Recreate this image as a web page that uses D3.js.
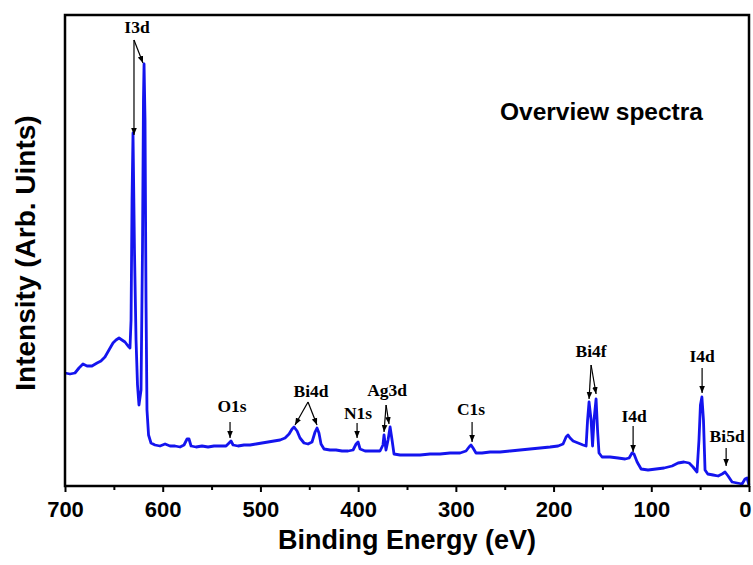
<!DOCTYPE html>
<html><head><meta charset="utf-8">
<script src="https://cdn.jsdelivr.net/npm/d3@7"></script>
<style>body{margin:0;background:#fff}</style>
</head><body>
<svg id="chart" width="753" height="565"></svg>
<script>
// Binding energy (eV) and intensity (arb. units)
const bindingEnergy = [700,694.9,689.8,685.7,681.6,677.5,672.4,667.2,663.2,659.1,655,650.9,647.8,644.7,641.7,638.6,635.5,633.5,632.4,631.4,630.4,628.9,627.3,625.8,624.3,622.2,620.7,619.7,619.1,618.1,617.1,616.1,614.5,612.0,607.9,602.8,597.6,592.5,587.4,582.3,578.2,575.1,573.1,571.0,565.9,559.8,553.6,547.5,541.3,535.2,532.1,530.1,528.0,522.9,516.8,510.6,504.5,498.4,492.2,486.1,479.9,474.8,470.7,467.6,465.6,462.5,459.5,455.4,451.3,447.2,444.1,442.1,440.1,438.0,434.9,428.8,422.6,416.5,410.3,405.2,402.1,400.1,398.0,392.9,387.8,382.7,377.6,374.6,373.5,371.5,369.4,367.3,365.3,363.3,357.1,346.9,336.6,326.4,316.2,305.9,295.7,289.6,286.5,284.5,282.4,279.4,273.2,265.0,254.8,244.5,234.3,224.1,213.8,203.6,195.4,190.3,187.2,185.2,183.1,180.0,174.9,169.8,166.7,165.2,163.7,161.6,160.1,158.6,156.5,155.0,153.5,150.4,142.2,134.0,126.8,122.7,119.7,117.7,114.5,110.4,103.3,95.1,86.9,78.7,72.6,66.5,61.3,57.3,53.2,51.2,49.7,48.2,46.6,45.0,42.2,36.7,31.6,27.5,24.5,21.4,17.3,12.2,7.1,4.1,2.0,0];
const intensity = [113,112,113,118,122,120,120,123,125,129,136,143,146,148,146,144,140,138,166,286,353,236,146,101,81,96,236,386,422,366,186,76,51,43,41,40,42,40,40,39,41,47,47,40,39,40,39,40,40,40,43,45,41,40,41,41,42,43,44,45,46,48,52,57,59,55,48,43,42,44,54,58,53,42,37,36,36,35,35,36,42,44,37,35,35,35,35,41,51,36,46,59,46,32,31,31,31,32,32,33,33,35,39,41,38,33,33,34,34,35,36,37,38,39,40,42,49,51,48,45,43,41,40,66,84,66,40,66,87,56,33,29,29,28,27,28,33,32,24,17,16,17,18,20,23,24,23,19,14,46,81,89,66,16,12,11,10,12,14,10,4,3,2,7,8,1];

const xTicks = [700,600,500,400,300,200,100,0];
const xMinorTicks = [650,550,450,350,250,150,50];

// Peak annotations (data coordinates)
const peakLabels = ["I3d","O1s","Bi4d","N1s","Ag3d","C1s","Bi4f","I4d","I4d","Bi5d"];
const labelAt = [[626.3,453],[529.1,74],[448.2,89],[400.1,67],[370.4,90],[284.4,71],[161.6,129],[117.6,64],[48.0,124],[22.4,44]];
const arrowFrom = [[629.4,446],[531.1,64],[451.3,84],[401.1,63],[371.4,81],[283.4,64],[161.6,121],[118.6,60],[48.0,118],[23.4,38]];
const arrowTo = [
  [[629.4,351],[620.2,423]],
  [[531.1,48]],
  [[464.6,61],[442.1,61]],
  [[401.1,48]],
  [[373.5,54],[368.4,62]],
  [[283.4,44]],
  [[163.7,87],[156.5,92]],
  [[118.6,34]],
  [[48.0,93]],
  [[23.4,20]]
];

const svg = d3.select("#chart");
const L = 65, R = 749, T = 15, B = 486;
const x = d3.scaleLinear().domain([700,0]).range([L,R]);
const y = d3.scaleLinear().domain([0,471]).range([B,T]);

svg.append("defs").append("marker")
  .attr("id","ah").attr("viewBox","0 0 10 10").attr("refX",10).attr("refY",5)
  .attr("markerWidth",7).attr("markerHeight",7).attr("markerUnits","userSpaceOnUse")
  .attr("orient","auto")
  .append("path").attr("d","M0,1 L10,5 L0,9 Z").attr("fill","#000");

const data = bindingEnergy.map((e,i)=>({e, v: intensity[i]}));
const line = d3.line().x(d=>x(d.e)).y(d=>y(d.v));
svg.append("path").datum(data).attr("d",line)
  .attr("fill","none").attr("stroke","#1414ee").attr("stroke-width",2.8)
  .attr("stroke-linejoin","round");

// frame
svg.append("rect").attr("x",L).attr("y",T).attr("width",R-L).attr("height",B-T)
  .attr("fill","none").attr("stroke","#000").attr("stroke-width",2.5);

// x axis
const ax = svg.append("g").attr("transform",`translate(0,${B})`);
ax.call(d3.axisBottom(x).tickValues(xTicks).tickSize(6).tickPadding(9).tickFormat(d3.format("d")));
ax.select(".domain").remove();
ax.selectAll(".tick line").attr("stroke","#000").attr("stroke-width",2);
ax.selectAll(".tick text").attr("font-family","Liberation Sans, Arial, sans-serif")
  .attr("font-weight","bold").attr("font-size",22).attr("fill","#000").attr("dy","0.72em")
  .attr("text-anchor", d => d === 0 ? "end" : "middle")
  .attr("dx", d => d === 0 ? 2 : 0);
const axm = svg.append("g").attr("transform",`translate(0,${B})`);
axm.call(d3.axisBottom(x).tickValues(xMinorTicks).tickSize(4).tickFormat(""));
axm.select(".domain").remove();
axm.selectAll(".tick line").attr("stroke","#000").attr("stroke-width",2);

// axis titles
svg.append("text").attr("x",407).attr("y",549).attr("text-anchor","middle")
  .attr("font-family","Liberation Sans, Arial, sans-serif").attr("font-weight","bold")
  .attr("font-size",27).text("Binding Energy (eV)");
svg.append("text").attr("transform","translate(35,253) rotate(-90)").attr("text-anchor","middle")
  .attr("font-family","Liberation Sans, Arial, sans-serif").attr("font-weight","bold")
  .attr("font-size",28).text("Intensity (Arb. Uints)");

svg.append("text").attr("x",500).attr("y",120)
  .attr("font-family","Liberation Sans, Arial, sans-serif").attr("font-weight","bold")
  .attr("font-size",24.5).text("Overview spectra");

// annotations
const ann = svg.append("g");
peakLabels.forEach((t,i)=>{
  ann.append("text").attr("x",x(labelAt[i][0])).attr("y",y(labelAt[i][1]))
    .attr("text-anchor","middle").attr("font-family","Liberation Serif, Times New Roman, serif")
    .attr("font-weight","bold").attr("font-size",17.5).text(t);
  arrowTo[i].forEach(tg=>{
    ann.append("line")
      .attr("x1",x(arrowFrom[i][0])).attr("y1",y(arrowFrom[i][1]))
      .attr("x2",x(tg[0])).attr("y2",y(tg[1]))
      .attr("stroke","#000").attr("stroke-width",1.2).attr("marker-end","url(#ah)");
  });
});
</script>
</body></html>
